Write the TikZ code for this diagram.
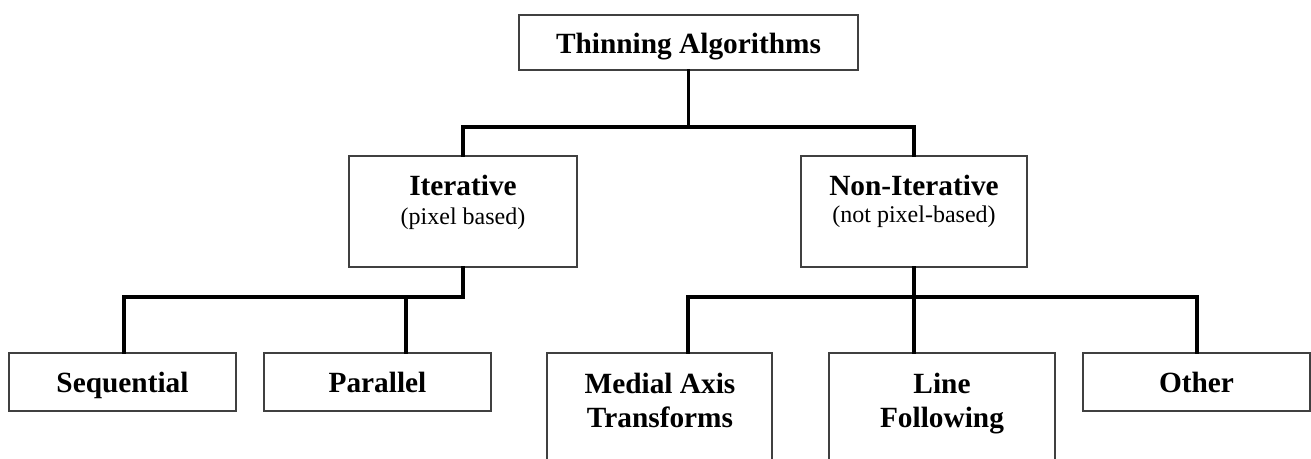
\documentclass[tikz,border=0pt]{standalone}
\usepackage{fontspec}
\setmainfont{Liberation Serif}
\usetikzlibrary{calc}
\begin{document}
\begin{tikzpicture}[x=0.75pt,y=-0.75pt,
  box/.style={draw=black!75, line width=1pt, fill=white, inner sep=0pt,
    text height=16pt, text depth=0pt,
    font=\fontsize{22}{25.5}\selectfont\bfseries, align=center},
  head/.style={font=\fontsize{22}{25.5}\selectfont\bfseries, inner sep=0pt, anchor=base},
  sub/.style={font=\fontsize{18}{21}\selectfont, inner sep=0pt, anchor=base},
  two/.style={font=\fontsize{22}{25.5}\selectfont\bfseries, inner sep=0pt, align=center},
  conn/.style={line width=2.6pt, line join=miter, line cap=rect}]
\useasboundingbox (0,0) rectangle (1311,459);
\clip (0,0) rectangle (1311,459);

% boxes
\node[box, minimum width=254.25pt, minimum height=41.25pt] (top) at (688.5,42.5) {Thinning Algorithms};
\node[box, minimum width=171pt, minimum height=83.25pt] (it) at (463,211.5) {};
\node[box, minimum width=169.5pt, minimum height=83.25pt] (nit) at (914,211.5) {};
\node[box, minimum width=170.25pt, minimum height=43.5pt] (seq) at (122.5,382) {Sequential};
\node[box, minimum width=170.25pt, minimum height=43.5pt] (par) at (377.5,382) {Parallel};
\node[box, minimum width=168.75pt, minimum height=87.75pt] (med) at (659.5,411.5) {};
\node[box, minimum width=169.5pt, minimum height=87.75pt] (lf) at (942,411.5) {};
\node[box, minimum width=170.25pt, minimum height=43.5pt] (oth) at (1196.5,382) {Other};

% texts inside the taller boxes
\node[head] (itt) at (463,196) {Iterative};
\node[sub] (its) at (463,225) {(pixel based)};
\node[head] (nitt) at (914,196) {Non-Iterative};
\node[sub] (nits) at (914,223) {(not pixel-based)};
\node[two] (medt) at (660,400) {Medial Axis\\Transforms};
\node[two] (lft) at (942,404) {Line\\Following};

% bus levels and connector ends
\coordinate (bus1) at (0,127);
\coordinate (bus2) at (0,297);
\coordinate (seqc) at ($(seq.north)+(1.5,0)$);
\coordinate (parc) at ($(par.north)+(28.5,0)$);
\coordinate (medc) at ($(med.north)+(28.5,0)$);
\coordinate (lfc) at ($(lf.north)+(-28,0)$);
\coordinate (othc) at ($(oth.north)+(0.5,0)$);

% connectors
\draw[conn] (top.south) -- (top.south |- bus1);
\draw[conn] (it.north) |- (nit.north |- bus1) -- (nit.north);
\draw[conn] (it.south) |- (seqc |- bus2) -- (seqc);
\draw[conn] (parc |- bus2) -- (parc);
\draw[conn] (nit.south) -- (nit.south |- bus2);
\draw[conn] (medc) |- (othc |- bus2) -- (othc);
\draw[conn] (lfc |- bus2) -- (lfc);
\end{tikzpicture}
\end{document}
